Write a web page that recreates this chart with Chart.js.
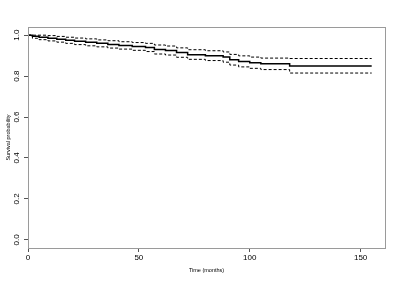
<!DOCTYPE html>
<html>
<head>
<meta charset="utf-8">
<script src="https://cdn.jsdelivr.net/npm/chart.js@4"></script>
<style>
  body { margin: 0; background: #fff; }
  #wrap { width: 399px; height: 282px; }
</style>
</head>
<body>
<div id="wrap"><canvas id="km"></canvas></div>
<script>
// tiempos de evento (meses)
const tiempos = [0, 2, 5, 9, 13, 17, 21, 26, 31, 36, 41, 47, 53, 57, 62, 67, 72, 80, 88, 91, 95, 100, 105, 118, 155];
// curva de supervivencia
const supervivencia = [1.0, 0.995, 0.99, 0.985, 0.98, 0.975, 0.97, 0.965, 0.96, 0.955, 0.95, 0.945, 0.94, 0.93, 0.925, 0.915, 0.905, 0.9, 0.893, 0.88, 0.872, 0.865, 0.86, 0.849, 0.849];
// intervalo de confianza
const superior = [1.0, 1.0, 1.0, 0.998, 0.994, 0.99, 0.986, 0.982, 0.977, 0.973, 0.968, 0.964, 0.96, 0.952, 0.947, 0.938, 0.929, 0.924, 0.918, 0.906, 0.899, 0.893, 0.888, 0.886, 0.886];
const inferior = [1.0, 0.985, 0.978, 0.972, 0.966, 0.96, 0.954, 0.948, 0.943, 0.937, 0.932, 0.926, 0.92, 0.908, 0.903, 0.892, 0.882, 0.876, 0.868, 0.854, 0.845, 0.838, 0.832, 0.815, 0.815];

const ticksX = [0, 50, 100, 150];
const ticksY = [0, 0.2, 0.4, 0.6, 0.8, 1.0];

function puntos(valores) {
    return tiempos.map((t, i) => ({ x: t, y: valores[i] }));
}

// marco del grafico (box de R)
const marco = {
    id: 'marco',
    afterDraw(chart) {
        const a = chart.chartArea;
        const ctx = chart.ctx;
        ctx.save();
        ctx.strokeStyle = '#9a9a9a';
        ctx.lineWidth = 1;
        ctx.strokeRect(a.left + 0.5, a.top + 0.5, a.right - a.left, a.bottom - a.top);
        ctx.restore();
    }
};

const fuente = { family: 'Liberation Sans, Arial, sans-serif', size: 8 };

new Chart(document.getElementById('km'), {
    type: 'line',
    data: {
        datasets: [{
            data: puntos(supervivencia),
            borderColor: '#000',
            borderWidth: 1.5,
            stepped: true,
            pointRadius: 0
        }, {
            data: puntos(superior),
            borderColor: '#000',
            borderWidth: 1,
            borderDash: [3, 2],
            stepped: true,
            pointRadius: 0
        }, {
            data: puntos(inferior),
            borderColor: '#000',
            borderWidth: 1,
            borderDash: [3, 2],
            stepped: true,
            pointRadius: 0
        }]
    },
    options: {
        responsive: true,
        maintainAspectRatio: false,
        animation: false,
        layout: { padding: { top: 27, right: 14, left: 0, bottom: 0 } },
        plugins: { legend: { display: false }, tooltip: { enabled: false } },
        scales: {
            x: {
                type: 'linear',
                min: 0,
                max: 161,
                afterBuildTicks: s => { s.ticks = ticksX.map(v => ({ value: v })); },
                afterFit: s => { s.height = 34; },
                grid: { drawOnChartArea: false, tickLength: 4, color: '#555' },
                border: { color: '#666', width: 1 },
                ticks: { color: '#000', font: fuente, padding: 1, maxRotation: 0 },
                title: {
                    display: true,
                    text: 'Time (months)',
                    color: '#000',
                    font: { family: 'Liberation Sans, Arial, sans-serif', size: 5.5 },
                    padding: { top: 8, bottom: 8 }
                }
            },
            y: {
                min: -0.04,
                max: 1.04,
                afterBuildTicks: s => { s.ticks = ticksY.map(v => ({ value: v })); },
                afterFit: s => { s.width = 28; },
                grid: { drawOnChartArea: false, tickLength: 4, color: '#555' },
                border: { color: '#666', width: 1 },
                ticks: {
                    color: '#000',
                    font: fuente,
                    padding: 2,
                    minRotation: 90,
                    maxRotation: 90,
                    crossAlign: 'center',
                    callback: v => v.toFixed(1)
                },
                title: {
                    display: true,
                    text: 'Survival probability',
                    color: '#000',
                    font: { family: 'Liberation Sans, Arial, sans-serif', size: 5.5 },
                    padding: { top: 5, bottom: 5 }
                }
            }
        }
    },
    plugins: [marco]
});
</script>
</body>
</html>
